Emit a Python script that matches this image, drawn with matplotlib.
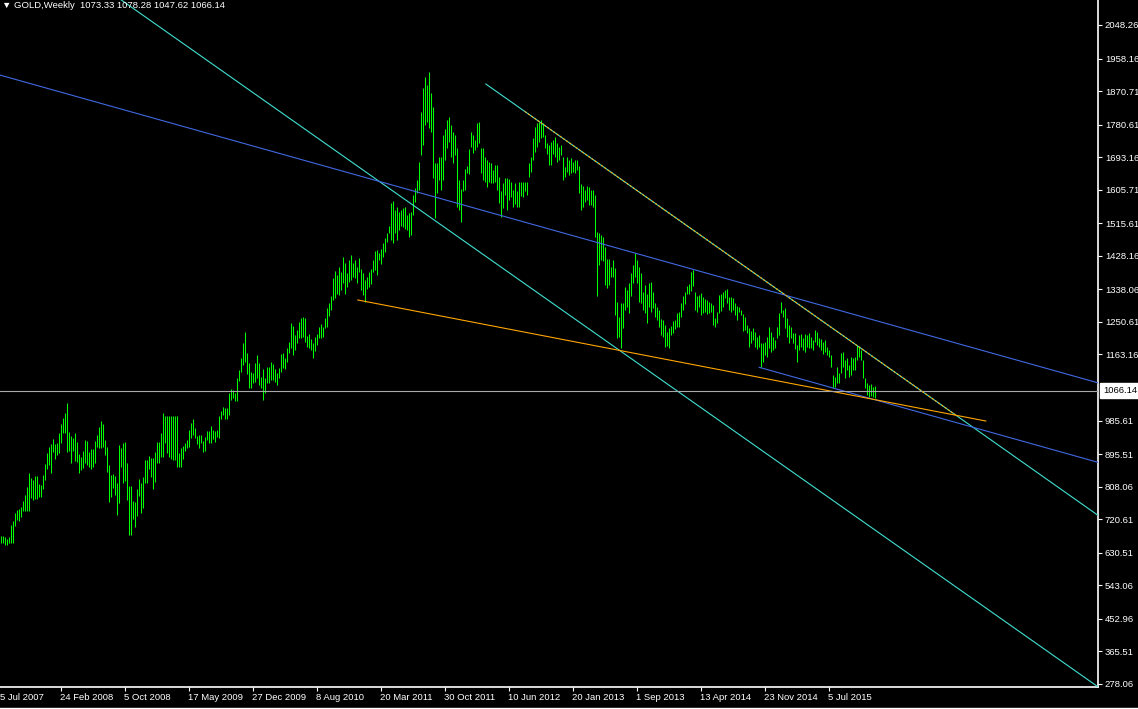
import matplotlib
matplotlib.use("Agg")
import matplotlib.pyplot as plt
import matplotlib.transforms as mtransforms
from matplotlib.lines import Line2D
import pandas as pd

# ---------------- data ----------------
start_date = "2007-07-29"
n_bars = 438

highs_a = [676, 676, 672, 667, 672, 705, 716, 737, 746, 747,
           753, 770, 786, 807, 844, 831, 826, 837, 837, 815,
           812, 840, 869, 898, 915, 923, 935, 923, 925, 951,
           977, 992, 1005, 1032, 955, 943, 939, 952, 928, 896,
           887, 904, 933, 931, 900, 909, 909, 930, 946, 968,
           985, 976, 933, 914, 866, 840, 842, 837, 817, 920,
           911, 925, 929, 871, 810, 810, 770, 766, 802, 829,
           817, 833, 880, 880, 891, 884, 884, 901, 928, 928,
           951, 1005, 998, 998, 998, 998, 998, 998, 998, 898,
           911, 918, 926, 933, 960, 978, 989, 965, 943, 946,
           947, 931, 942, 958, 958, 971, 960, 958, 960, 998]
lows_a = [656, 658, 651, 651, 656, 658, 658, 703, 719, 717,
          726, 744, 744, 744, 744, 777, 771, 775, 774, 781,
          781, 803, 826, 855, 866, 846, 902, 882, 893, 898,
          925, 953, 953, 902, 905, 871, 905, 877, 875, 844,
          853, 857, 871, 866, 862, 855, 862, 871, 916, 911,
          911, 916, 893, 848, 768, 780, 804, 786, 732, 763,
          860, 817, 824, 771, 678, 678, 720, 699, 728, 783,
          738, 752, 817, 817, 855, 833, 801, 822, 873, 873,
          889, 889, 925, 898, 889, 882, 880, 880, 862, 862,
          862, 882, 905, 911, 916, 938, 947, 938, 923, 911,
          925, 902, 904, 933, 925, 925, 935, 929, 941, 938]

highs_b = [1012, 1023, 1020, 1020, 1061, 1070, 1068, 1061, 1099, 1121,
           1153, 1193, 1224, 1166, 1139, 1117, 1113, 1139, 1162, 1139,
           1104, 1123, 1099, 1129, 1130, 1144, 1138, 1123, 1113, 1126,
           1165, 1168, 1155, 1180, 1198, 1247, 1240, 1216, 1229, 1251,
           1260, 1263, 1260, 1213, 1218, 1204, 1195, 1211, 1218, 1238,
           1245, 1238, 1260, 1287, 1301, 1320, 1368, 1387, 1377, 1399,
           1386, 1426, 1408, 1383, 1417, 1430, 1408, 1417, 1397, 1422,
           1392, 1381, 1363, 1372, 1386, 1392, 1417, 1442, 1444, 1437,
           1446, 1464, 1475, 1489, 1508, 1569, 1576, 1551, 1560, 1547,
           1551, 1556, 1560, 1538, 1542, 1547, 1592, 1610, 1632, 1681,
           1815, 1878, 1909, 1887, 1923, 1865, 1829, 1677, 1677, 1695]
lows_b = [990, 1001, 990, 990, 1000, 1041, 1045, 1037, 1039, 1093,
          1117, 1135, 1144, 1112, 1072, 1072, 1086, 1090, 1099, 1081,
          1072, 1041, 1059, 1086, 1086, 1095, 1095, 1090, 1081, 1099,
          1117, 1126, 1125, 1144, 1166, 1180, 1162, 1175, 1193, 1207,
          1207, 1211, 1198, 1182, 1180, 1175, 1155, 1173, 1189, 1207,
          1207, 1209, 1233, 1238, 1267, 1283, 1310, 1314, 1327, 1323,
          1336, 1356, 1327, 1345, 1359, 1363, 1372, 1368, 1356, 1386,
          1336, 1323, 1305, 1338, 1345, 1353, 1386, 1390, 1377, 1417,
          1406, 1426, 1439, 1466, 1489, 1471, 1462, 1489, 1471, 1498,
          1507, 1505, 1499, 1498, 1478, 1484, 1538, 1574, 1596, 1605,
          1699, 1726, 1780, 1789, 1771, 1762, 1636, 1529, 1596, 1632]

highs_c = [1695, 1753, 1768, 1793, 1802, 1780, 1762, 1753, 1717, 1632,
           1607, 1632, 1661, 1669, 1714, 1762, 1753, 1739, 1786, 1789,
           1717, 1717, 1695, 1686, 1681, 1677, 1659, 1672, 1672, 1641,
           1601, 1625, 1636, 1636, 1634, 1627, 1605, 1625, 1601, 1627,
           1627, 1627, 1627, 1627, 1677, 1695, 1744, 1775, 1784, 1789,
           1793, 1784, 1753, 1730, 1726, 1735, 1739, 1748, 1730, 1721,
           1726, 1695, 1668, 1695, 1686, 1690, 1681, 1686, 1686, 1670,
           1621, 1616, 1605, 1616, 1614, 1605, 1605, 1592, 1493, 1489,
           1484, 1480, 1453, 1421, 1421, 1399, 1417, 1395, 1305, 1265,
           1301, 1301, 1345, 1336, 1354, 1381, 1404, 1435, 1417, 1399,
           1381, 1332, 1350, 1327, 1354, 1359, 1332, 1301, 1292, 1283]
lows_c = [1605, 1632, 1686, 1717, 1735, 1695, 1677, 1699, 1560, 1551,
          1520, 1603, 1605, 1650, 1648, 1721, 1704, 1712, 1721, 1730,
          1650, 1632, 1627, 1614, 1627, 1623, 1625, 1627, 1605, 1569,
          1533, 1556, 1592, 1551, 1578, 1585, 1560, 1567, 1560, 1560,
          1589, 1587, 1601, 1592, 1641, 1654, 1686, 1708, 1721, 1735,
          1744, 1748, 1717, 1703, 1672, 1672, 1703, 1695, 1681, 1686,
          1699, 1632, 1641, 1654, 1645, 1650, 1654, 1650, 1659, 1596,
          1551, 1560, 1574, 1578, 1565, 1565, 1560, 1480, 1319, 1404,
          1417, 1413, 1350, 1341, 1350, 1372, 1372, 1269, 1207, 1211,
          1180, 1233, 1283, 1292, 1274, 1319, 1354, 1372, 1354, 1305,
          1301, 1283, 1274, 1247, 1292, 1278, 1287, 1265, 1256, 1238]

highs_d = [1258, 1256, 1242, 1224, 1233, 1240, 1254, 1256, 1274, 1278,
           1301, 1320, 1332, 1347, 1352, 1386, 1390, 1332, 1320, 1323,
           1329, 1317, 1311, 1310, 1305, 1302, 1296, 1260, 1278, 1323,
           1327, 1332, 1336, 1338, 1317, 1317, 1314, 1302, 1293, 1292,
           1283, 1272, 1265, 1242, 1233, 1227, 1233, 1224, 1209, 1216,
           1193, 1193, 1198, 1211, 1236, 1224, 1211, 1202, 1238, 1274,
           1305, 1283, 1287, 1260, 1242, 1238, 1222, 1220, 1189, 1216,
           1218, 1207, 1218, 1216, 1222, 1211, 1202, 1229, 1224, 1207,
           1204, 1198, 1202, 1184, 1175, 1162, 1108, 1104, 1130, 1113,
           1166, 1171, 1148, 1153, 1135, 1157, 1153, 1157, 1189, 1184,
           1175, 1148, 1099, 1086, 1081, 1084, 1077, 1078.28]
lows_d = [1216, 1209, 1182, 1186, 1180, 1216, 1222, 1231, 1238, 1238,
          1263, 1284, 1299, 1326, 1327, 1335, 1347, 1283, 1278, 1292,
          1269, 1274, 1278, 1272, 1274, 1278, 1242, 1238, 1247, 1274,
          1281, 1292, 1314, 1302, 1284, 1278, 1284, 1269, 1256, 1276,
          1269, 1225, 1229, 1220, 1182, 1193, 1202, 1184, 1177, 1182,
          1130, 1144, 1162, 1157, 1180, 1171, 1175, 1180, 1207, 1216,
          1274, 1265, 1233, 1211, 1193, 1207, 1195, 1177, 1144, 1175,
          1182, 1175, 1171, 1184, 1180, 1180, 1175, 1198, 1189, 1182,
          1175, 1165, 1171, 1162, 1157, 1129, 1072, 1077, 1086, 1086,
          1113, 1130, 1099, 1122, 1104, 1108, 1122, 1122, 1148, 1157,
          1148, 1099, 1072, 1054, 1050, 1052, 1048, 1047.62]

last_close = 1066.14
title_text = "\u25BC GOLD,Weekly  1073.33 1078.28 1047.62 1066.14"

price_ticks = [2048.26, 1958.16, 1870.71, 1780.61, 1693.16, 1605.71, 1515.61,
               1428.16, 1338.06, 1250.61, 1163.16, 985.61, 895.51, 808.06,
               720.61, 630.51, 543.06, 452.96, 365.51, 278.06]
date_ticks = ["2008-02-24", "2008-10-05", "2009-05-17", "2009-12-27", "2010-08-08",
              "2011-03-20", "2011-10-30", "2012-06-10", "2013-01-20", "2013-09-01",
              "2014-04-13", "2014-11-23", "2015-07-05"]
date_labels = ["24 Feb 2008", "5 Oct 2008", "17 May 2009", "27 Dec 2009", "8 Aug 2010",
               "20 Mar 2011", "30 Oct 2011", "10 Jun 2012", "20 Jan 2013", "1 Sep 2013",
               "13 Apr 2014", "23 Nov 2014", "5 Jul 2015"]
first_label = "5 Jul 2007"

# trend lines: (bar index, price) anchor pairs
cyan_line_1 = [(109.65, 1929.3), (548.15, 272.7)]
cyan_ray_2 = [(242.65, 1889.8), (548.15, 733.4)]
orange_upper = [(262.15, 1816.0), (478.15, 998.4)]
orange_lower = [(178.65, 1309.6), (492.65, 984.5)]
blue_line_1 = [(109.65, 1748.2), (548.15, 1087.9)]
blue_ray_2 = [(379.3, 1128.8), (548.15, 874.4)]

# ---------------- figure ----------------
W, H = 1138, 709
fig = plt.figure(figsize=(W / 100, H / 100), dpi=100, facecolor="black")
ax = fig.add_axes([0, 22 / H, 1098 / W, 687 / H], facecolor="black")

highs = highs_a + highs_b + highs_c + highs_d
lows = lows_a + lows_b + lows_c + lows_d
dates = pd.date_range(start_date, periods=n_bars, freq="7D")
idx = list(range(len(highs)))

ax.vlines(idx, lows, highs, colors="#00ff00", linewidth=0.75, zorder=2, snap=True)

ax.set_xlim(-0.25, 548.75)
ax.set_ylim(270.0, 2115.4)


def ext_line(pts, x_end=560, x_start=None):
    (x0, y0), (x1, y1) = pts
    s = (y1 - y0) / (x1 - x0)
    xs = x0 if x_start is None else x_start
    return [xs, x_end], [y0 + s * (xs - x0), y0 + s * (x_end - x0)]


lw = 0.8
xs, ys = ext_line(cyan_line_1, x_start=-10)
ax.plot(xs, ys, color="#40e0d0", lw=lw, zorder=3)
xs, ys = ext_line(cyan_ray_2)
ax.plot(xs, ys, color="#40e0d0", lw=lw, zorder=3)
xs, ys = ext_line(blue_line_1, x_start=-10)
ax.plot(xs, ys, color="#4169e1", lw=lw, zorder=3)
xs, ys = ext_line(blue_ray_2)
ax.plot(xs, ys, color="#4169e1", lw=lw, zorder=3)
ax.plot([p[0] for p in orange_lower], [p[1] for p in orange_lower], color="#ffa500", lw=lw, zorder=3)
ax.plot([p[0] for p in orange_upper], [p[1] for p in orange_upper], color="#ffa500", lw=lw,
        zorder=4, dashes=(2, 1.5))
ax.axhline(last_close, color="#a8a8a8", lw=lw, zorder=3)

# spines
for s in ["left", "top"]:
    ax.spines[s].set_visible(False)
for s in ["right", "bottom"]:
    ax.spines[s].set_color("white")
    ax.spines[s].set_linewidth(1.2)

fam = ["Liberation Sans", "DejaVu Sans"]
fs = 6.8

ax.yaxis.tick_right()
ax.set_yticks(price_ticks)
ax.set_yticklabels([f"{v:.2f}" for v in price_ticks])
ax.tick_params(axis="y", colors="white", length=3, width=0.8, pad=2, labelsize=fs)
for t in ax.get_yticklabels():
    t.set_family(fam)

start = pd.Timestamp(start_date)
xt = [(pd.Timestamp(d) - start).days / 7 for d in date_ticks]
ax.set_xticks(xt)
ax.set_xticklabels(date_labels, ha="left")
ax.tick_params(axis="x", colors="white", length=3, width=0.8, pad=1.5, labelsize=fs)
for t in ax.get_xticklabels():
    t.set_family(fam)

trans = mtransforms.blended_transform_factory(ax.transAxes, ax.transData)
ax.text(1.0 + 5 / 1098, last_close, f"{last_close:.2f}", transform=trans, color="black",
        fontsize=fs, family=fam, va="center", ha="left", zorder=10,
        bbox=dict(boxstyle="square,pad=0.3", fc="white", ec="white"))

fig.text(0.5 / W, (H - 698) / H, first_label, color="white", fontsize=fs, family=fam,
         va="center", ha="left")
fig.text(2 / W, (H - 5) / H, title_text, color="white", fontsize=fs, family=fam,
         va="center", ha="left")

fig.add_artist(Line2D([0, 1], [1.5 / H, 1.5 / H], transform=fig.transFigure,
                      color="white", lw=1.0))

fig.savefig("out.png", dpi=100, facecolor="black")
